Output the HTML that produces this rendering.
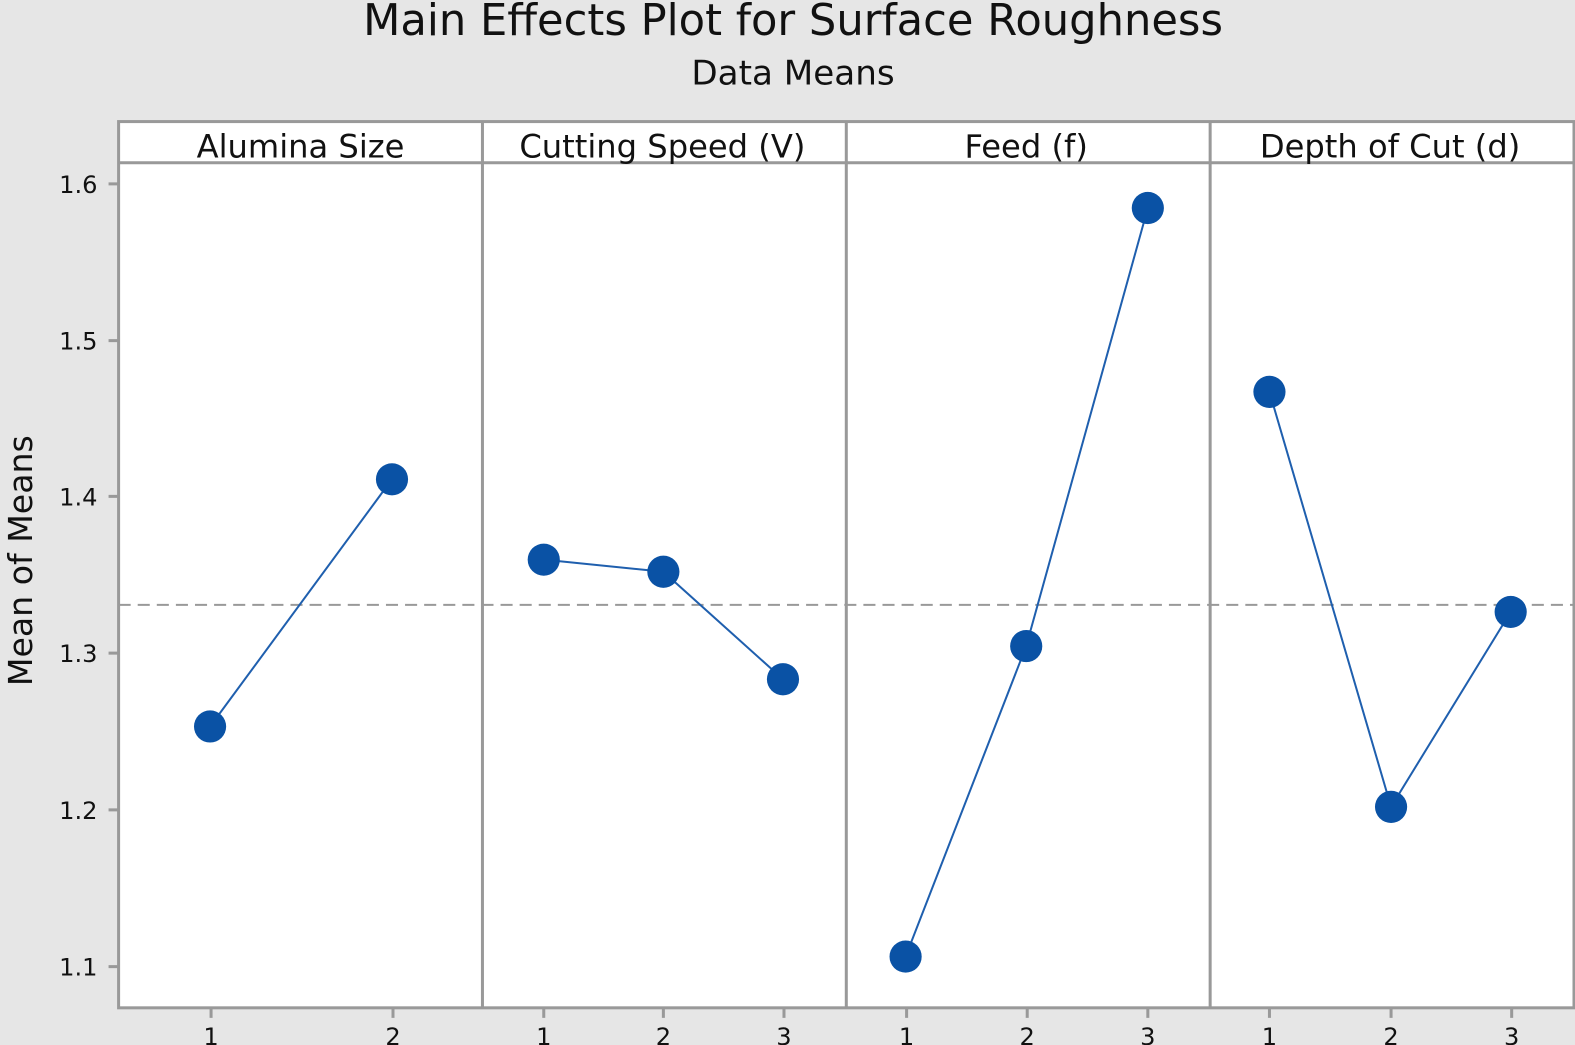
<!DOCTYPE html>
<html><head><meta charset="utf-8"><style>
html,body{margin:0;padding:0;background:#e6e6e6;overflow:hidden;width:1575px;height:1045px;}
svg{display:block;font-family:"DejaVu Sans","Liberation Sans",sans-serif;}
</style></head><body>
<svg width="1575" height="1045" viewBox="0 0 1567 1040" preserveAspectRatio="none">
<rect x="0" y="0" width="1600" height="1100" fill="#e6e6e6"/>
<text x="789" y="35" font-size="43" text-anchor="middle" fill="#111">Main Effects Plot for Surface Roughness</text>
<text x="789" y="84" font-size="34" text-anchor="middle" fill="#111">Data Means</text>
<rect x="118" y="121" width="1448" height="882" fill="#fff" stroke="#999" stroke-width="3"/>
<line x1="118" y1="162" x2="1566" y2="162" stroke="#999" stroke-width="3"/>
<g stroke="#999" stroke-width="3">
<line x1="480" y1="121" x2="480" y2="1003"/>
<line x1="842" y1="121" x2="842" y2="1003"/>
<line x1="1204" y1="121" x2="1204" y2="1003"/>
</g>
<g font-size="32" text-anchor="middle" fill="#111">
<text x="299" y="157">Alumina Size</text>
<text x="659" y="157">Cutting Speed (V)</text>
<text x="1021" y="157">Feed (f)</text>
<text x="1383" y="157">Depth of Cut (d)</text>
</g>
<g stroke="#999" stroke-width="3">
<line x1="108" y1="183" x2="118" y2="183"/>
<line x1="108" y1="339" x2="118" y2="339"/>
<line x1="108" y1="494" x2="118" y2="494"/>
<line x1="108" y1="650" x2="118" y2="650"/>
<line x1="108" y1="806" x2="118" y2="806"/>
<line x1="108" y1="962" x2="118" y2="962"/>
</g>
<g font-size="24" text-anchor="end" fill="#111">
<text x="97" y="192">1.6</text>
<text x="97" y="348">1.5</text>
<text x="97" y="503">1.4</text>
<text x="97" y="659">1.3</text>
<text x="97" y="815">1.2</text>
<text x="97" y="971">1.1</text>
</g>
<text transform="translate(32,558) rotate(-90)" font-size="33" text-anchor="middle" fill="#111">Mean of Means</text>
<g stroke="#999" stroke-width="3">
<line x1="210" y1="1003" x2="210" y2="1013"/><line x1="391" y1="1003" x2="391" y2="1013"/>
<line x1="541" y1="1003" x2="541" y2="1013"/><line x1="660" y1="1003" x2="660" y2="1013"/><line x1="780" y1="1003" x2="780" y2="1013"/>
<line x1="902" y1="1003" x2="902" y2="1013"/><line x1="1022" y1="1003" x2="1022" y2="1013"/><line x1="1142" y1="1003" x2="1142" y2="1013"/>
<line x1="1263" y1="1003" x2="1263" y2="1013"/><line x1="1384" y1="1003" x2="1384" y2="1013"/><line x1="1504" y1="1003" x2="1504" y2="1013"/>
</g>
<g font-size="24" text-anchor="middle" fill="#111">
<text x="210" y="1040">1</text><text x="391" y="1040">2</text>
<text x="541" y="1040">1</text><text x="660" y="1040">2</text><text x="780" y="1040">3</text>
<text x="902" y="1040">1</text><text x="1022" y="1040">2</text><text x="1142" y="1040">3</text>
<text x="1263" y="1040">1</text><text x="1384" y="1040">2</text><text x="1504" y="1040">3</text>
</g>
<line x1="118" y1="602" x2="1566" y2="602" stroke="#999" stroke-width="2" stroke-dasharray="12,7"/>
<g stroke="#1f5fae" stroke-width="2" fill="none">
<polyline points="209,723 390,477"/>
<polyline points="541,557 660,569 779,676"/>
<polyline points="901,952 1021,643 1142,207"/>
<polyline points="1263,390 1384,803 1503,609"/>
</g>
<g fill="#0a52a5">
<circle cx="209" cy="723" r="16"/><circle cx="390" cy="477" r="16"/>
<circle cx="541" cy="557" r="16"/><circle cx="660" cy="569" r="16"/><circle cx="779" cy="676" r="16"/>
<circle cx="901" cy="952" r="16"/><circle cx="1021" cy="643" r="16"/><circle cx="1142" cy="207" r="16"/>
<circle cx="1263" cy="390" r="16"/><circle cx="1384" cy="803" r="16"/><circle cx="1503" cy="609" r="16"/>
</g>
</svg>
</body></html>
